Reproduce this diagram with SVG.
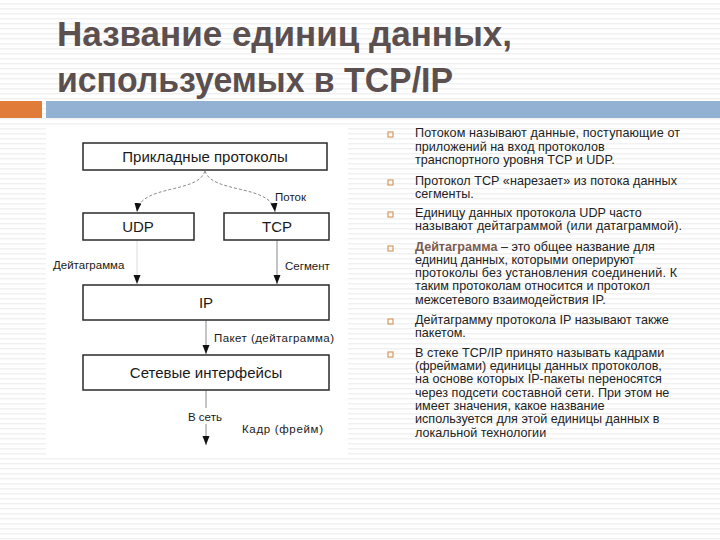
<svg xmlns="http://www.w3.org/2000/svg" width="720" height="540" viewBox="0 0 720 540">
<defs>
  <pattern id="stripes" x="0" y="0" width="720" height="5" patternUnits="userSpaceOnUse">
    <rect x="0" y="0" width="720" height="5" fill="#ffffff"/>
    <rect x="0" y="3" width="720" height="1.5" fill="#f1f1f1"/>
  </pattern>
  <marker id="arr" markerUnits="userSpaceOnUse" markerWidth="9" markerHeight="8" refX="9" refY="3.5" orient="auto">
    <path d="M0,0 L9,3.5 L0,7 z" fill="#111"/>
  </marker>
  <style>
    .title { font-family: "Liberation Sans", Arial, sans-serif; font-weight: bold; font-size: 35px; fill: #5b4f4f; }
    .box { fill: #ffffff; stroke: #2a2a2a; stroke-width: 1.5; }
    .blabel { font-family: "Liberation Sans", Arial, sans-serif; font-size: 15px; fill: #1a1a1a; text-anchor: middle; }
    .clabel { font-family: "Liberation Sans", Arial, sans-serif; font-size: 11.5px; fill: #1a1a1a; }
    .dash { fill: none; stroke: #8a8a8a; stroke-width: 1; stroke-dasharray: 3 2; }
    .solid { fill: none; stroke: #8a8a8a; stroke-width: 1; }
    .faint { fill: none; stroke: #dcdcdc; stroke-width: 1; }
    .txt { font-family: "Liberation Sans", Arial, sans-serif; font-size: 12.6px; fill: #222222; }
    .bold { font-weight: bold; fill: #7b5a50; }
    .bullet { fill: none; stroke: #d49a62; stroke-width: 1.2; }
  </style>
</defs>
<rect x="0" y="0" width="720" height="540" fill="url(#stripes)"/>

<g id="title">
  <text class="title" x="57" y="46" textLength="455" lengthAdjust="spacingAndGlyphs">Название единиц данных,</text>
  <text class="title" x="57" y="92" textLength="396" lengthAdjust="spacingAndGlyphs">используемых в TCP/IP</text>
</g>
<g id="title-bar">
  <rect x="0" y="101" width="42" height="17" fill="#e07b39"/>
  <rect x="46" y="101" width="674" height="17" fill="#93b2d3"/>
</g>

<rect id="diagram-panel" x="46" y="128" width="302" height="327" fill="#ffffff"/>

<g id="connectors">
  <path class="dash" d="M205,171 C198,194 140,184 137,212" marker-end="url(#arr)"/>
  <path class="dash" d="M205,171 C212,194 272,184 275,212" marker-end="url(#arr)"/>
  <path class="faint" d="M137,240 L137,284" marker-end="url(#arr)"/>
  <path class="solid" d="M277,240 L277,284" marker-end="url(#arr)"/>
  <path class="solid" d="M206,320 L206,354" marker-end="url(#arr)"/>
  <path class="solid" d="M206,390 L206,445" marker-end="url(#arr)"/>
  <rect x="186" y="408" width="41" height="16" fill="#ffffff"/>
  <text class="clabel" x="275" y="201">Поток</text>
  <text class="clabel" x="53" y="269">Дейтаграмма</text>
  <text class="clabel" x="285" y="270">Сегмент</text>
  <text class="clabel" x="214" y="342" textLength="120" lengthAdjust="spacing">Пакет (дейтаграмма)</text>
  <text class="clabel" x="188" y="421">В сеть</text>
  <text class="clabel" x="242" y="433" textLength="81" lengthAdjust="spacing">Кадр (фрейм)</text>
</g>

<g id="node-app">
  <rect class="box" x="83" y="143" width="244" height="27"/>
  <text class="blabel" x="205" y="162">Прикладные протоколы</text>
</g>
<g id="node-udp">
  <rect class="box" x="83" y="213" width="111" height="27"/>
  <text class="blabel" x="138" y="232">UDP</text>
</g>
<g id="node-tcp">
  <rect class="box" x="224" y="213" width="105" height="27"/>
  <text class="blabel" x="277" y="232">TCP</text>
</g>
<g id="node-ip">
  <rect class="box" x="83" y="285" width="246" height="35"/>
  <text class="blabel" x="206" y="308">IP</text>
</g>
<g id="node-net">
  <rect class="box" x="83" y="355" width="246" height="35"/>
  <text class="blabel" x="206" y="378">Сетевые интерфейсы</text>
</g>

<g id="bullets">
  <rect class="bullet" x="388" y="132" width="5" height="5"/>
  <rect class="bullet" x="388" y="180" width="5" height="5"/>
  <rect class="bullet" x="388" y="212" width="5" height="5"/>
  <rect class="bullet" x="388" y="246" width="5" height="5"/>
  <rect class="bullet" x="388" y="319" width="5" height="5"/>
  <rect class="bullet" x="388" y="352" width="5" height="5"/>
</g>
<g id="notes">
  <text class="txt" x="415" y="137" textLength="265" lengthAdjust="spacing">Потоком называют данные, поступающие от</text>
  <text class="txt" x="415" y="151">приложений на вход протоколов</text>
  <text class="txt" x="415" y="164">транспортного уровня TCP и UDP.</text>
  <text class="txt" x="415" y="185" textLength="262" lengthAdjust="spacing">Протокол TCP «нарезает» из потока данных</text>
  <text class="txt" x="415" y="198">сегменты.</text>
  <text class="txt" x="415" y="217">Единицу данных протокола UDP часто</text>
  <text class="txt" x="415" y="230" textLength="267" lengthAdjust="spacing">называют дейтаграммой (или датаграммой).</text>
  <text class="txt bold" x="415" y="251">Дейтаграмма</text>
  <text class="txt" x="501" y="251">– это общее название для</text>
  <text class="txt" x="415" y="264">единиц данных, которыми оперируют</text>
  <text class="txt" x="415" y="277" textLength="262" lengthAdjust="spacing">протоколы без установления соединений. К</text>
  <text class="txt" x="415" y="290">таким протоколам относится и протокол</text>
  <text class="txt" x="415" y="304">межсетевого взаимодействия IP.</text>
  <text class="txt" x="415" y="324">Дейтаграмму протокола IP называют также</text>
  <text class="txt" x="415" y="337">пакетом.</text>
  <text class="txt" x="415" y="357">В стеке TCP/IP принято называть кадрами</text>
  <text class="txt" x="415" y="370">(фреймами) единицы данных протоколов,</text>
  <text class="txt" x="415" y="383">на основе которых IP-пакеты переносятся</text>
  <text class="txt" x="415" y="397">через подсети составной сети. При этом не</text>
  <text class="txt" x="415" y="410">имеет значения, какое название</text>
  <text class="txt" x="415" y="423">используется для этой единицы данных в</text>
  <text class="txt" x="415" y="437">локальной технологии</text>
</g>
</svg>
